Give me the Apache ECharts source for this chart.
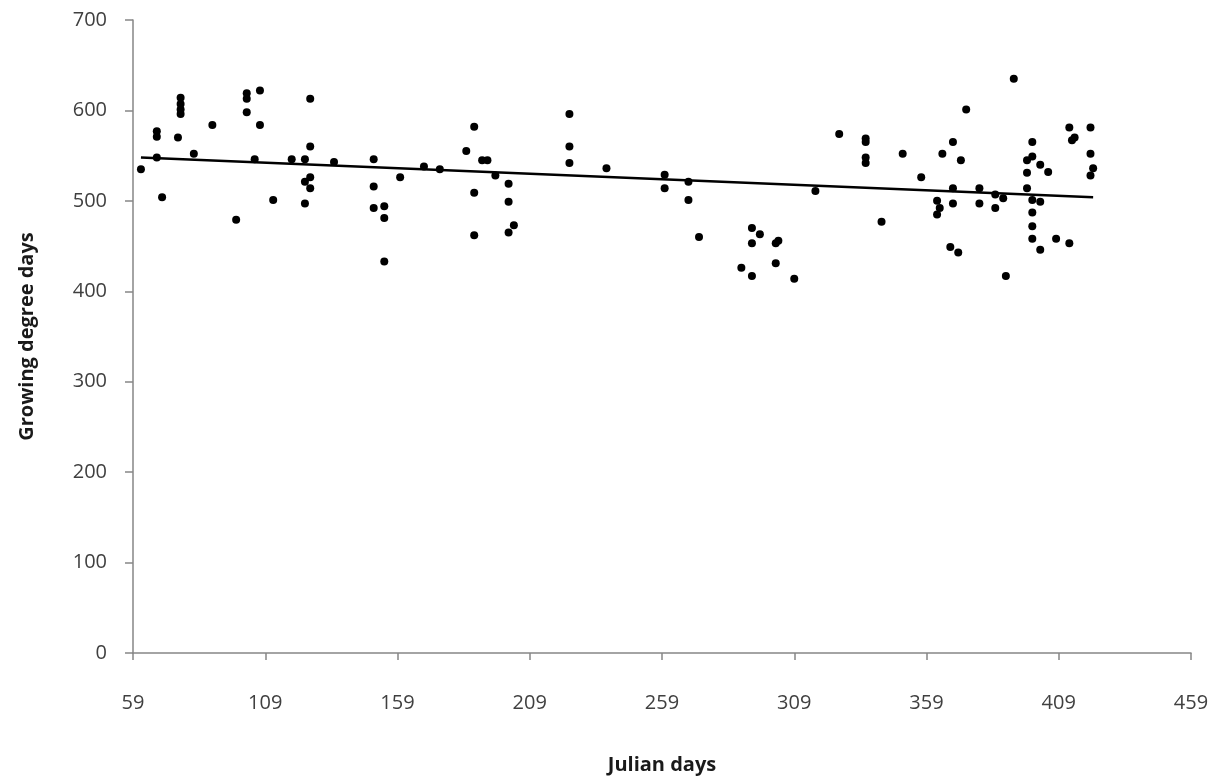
<!DOCTYPE html>
<html>
<head>
<meta charset="utf-8">
<script src="https://cdn.jsdelivr.net/npm/echarts@6/dist/echarts.min.js"></script>
<style>
  html, body { margin: 0; padding: 0; background: #fff; }
  #chart { width: 1225px; height: 780px; }
</style>
</head>
<body>
<div id="chart"></div>
<script>
const julianDays = [
  62, 68, 68, 68, 70, 76, 77, 77, 77, 77, 82, 89, 98, 102, 102, 102, 107, 107, 105, 112,
  119, 124, 126, 126, 126, 124, 126, 124, 135, 150, 150, 150, 154, 154, 154, 160, 169, 175, 185, 188,
  191, 193, 196, 188, 188, 201, 201, 203, 201, 224, 224, 224, 238, 260, 260, 269, 269, 273, 293, 296,
  293, 289, 293, 302, 303, 302, 309, 317, 326, 336, 336, 336, 336, 342, 350, 357, 365, 363, 364, 363,
  369, 372, 369, 369, 368, 371, 374, 379, 379, 385, 385, 388, 389, 392, 397, 399, 399, 397, 397, 399,
  399, 399, 399, 402, 402, 402, 405, 408, 413, 414, 415, 413, 421, 421, 422, 421
];
const degreeDays = [
  535, 577, 571, 548, 504, 570, 614, 607, 601, 596, 552, 584, 479, 619, 613, 598, 622, 584, 546, 501,
  546, 546, 613, 560, 526, 521, 514, 497, 543, 546, 516, 492, 494, 481, 433, 526, 538, 535, 555, 582,
  545, 545, 528, 509, 462, 519, 499, 473, 465, 596, 560, 542, 536, 529, 514, 521, 501, 460, 470, 463,
  453, 426, 417, 453, 456, 431, 414, 511, 574, 569, 565, 548, 542, 477, 552, 526, 552, 500, 492, 485,
  565, 545, 514, 497, 449, 443, 601, 514, 497, 507, 492, 503, 417, 635, 545, 549, 565, 531, 514, 501,
  487, 472, 458, 540, 499, 446, 532, 458, 581, 567, 570, 453, 581, 552, 536, 528
];
// linear trend line end points
const trendDays = [62, 422];
const trendValues = [548, 504];

const chart = echarts.init(document.getElementById('chart'));

const axisText = { color: '#404040', fontSize: 20, fontFamily: 'Open Sans' };
const titleText = { color: '#1a1a1a', fontSize: 20, fontWeight: 'bold', fontFamily: 'Open Sans' };
const axisStroke = { lineStyle: { color: '#868686', width: 1.5 } };

chart.setOption({
  animation: false,
  grid: { left: 133, right: 34, top: 20, bottom: 120 },
  xAxis: {
    type: 'value',
    min: 59,
    max: 459,
    interval: 50,
    name: 'Julian days',
    nameLocation: 'middle',
    nameGap: 102,
    nameTextStyle: titleText,
    axisLine: { show: true, ...axisStroke },
    axisTick: { show: true, length: 7, ...axisStroke },
    axisLabel: { ...axisText, margin: 40 },
    splitLine: { show: false }
  },
  yAxis: {
    type: 'value',
    min: 0,
    max: 700,
    interval: 100,
    name: 'Growing degree days',
    nameLocation: 'middle',
    nameGap: 96,
    nameTextStyle: titleText,
    axisLine: { show: true, ...axisStroke },
    axisTick: { show: true, length: 8, ...axisStroke },
    axisLabel: { ...axisText, margin: 26 },
    splitLine: { show: false }
  },
  series: [
    {
      type: 'scatter',
      symbolSize: 8,
      itemStyle: { color: '#000', opacity: 1 },
      data: julianDays.map((d, i) => [d, degreeDays[i]])
    },
    {
      type: 'line',
      symbol: 'none',
      lineStyle: { color: '#000', width: 2.5 },
      data: trendDays.map((d, i) => [d, trendValues[i]])
    }
  ]
});
</script>
</body>
</html>
